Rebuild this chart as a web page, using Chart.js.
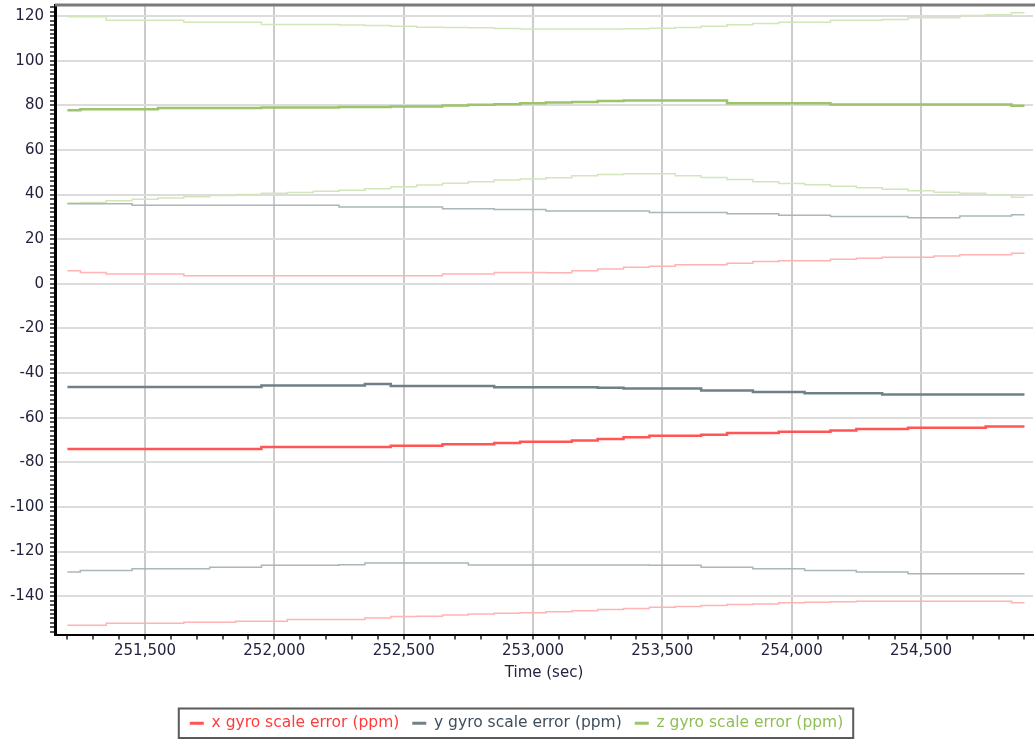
<!DOCTYPE html>
<html>
<head>
<meta charset="utf-8">
<script src="https://cdn.jsdelivr.net/npm/chart.js@4.4.1/dist/chart.umd.min.js"></script>
<style>
  html, body { margin: 0; padding: 0; background: #ffffff; }
  #wrap { width: 1035px; height: 742px; }
</style>
</head>
<body>
<div id="wrap"><canvas id="gyroChart" width="1035" height="742"></canvas></div>
<script>
// gyro scale error plot - estimate +/- bounds per axis

const timeSec = [251200, 251300, 251400, 251500, 251600, 251700, 251800, 251900,
  252000, 252100, 252200, 252300, 252400, 252500, 252600, 252700, 252800, 252900,
  253000, 253100, 253200, 253300, 253400, 253500, 253600, 253700, 253800, 253900,
  254000, 254100, 254200, 254300, 254400, 254500, 254600, 254700, 254800, 254900];

// x gyro
const xErr = [-74.0, -74.0, -74.0, -74.0, -74.0, -74.0, -74.0, -74.0, -73.2, -73.2, -73.2, -73.2, -73.2,
  -72.6, -72.6, -71.9, -71.9, -71.4, -70.8, -70.8, -70.2, -69.6, -68.8, -68.1, -68.1, -67.6,
  -66.9, -66.9, -66.3, -66.3, -65.7, -65.1, -65.1, -64.5, -64.5, -64.5, -63.9, -63.9];
const xErrUpper = [5.9, 5.1, 4.4, 4.4, 4.4, 3.6, 3.6, 3.6, 3.6, 3.6, 3.6, 3.6, 3.6, 3.6, 3.6,
  4.4, 4.4, 5.1, 5.1, 5.0, 5.9, 6.7, 7.4, 7.9, 8.6, 8.6, 9.2, 10.0, 10.4, 10.4, 11.0, 11.5,
  11.9, 11.9, 12.5, 13.0, 13.0, 13.7];
const xErrLower = [-153.0, -153.0, -152.2, -152.2, -152.2, -151.7, -151.7, -151.3, -151.3, -150.5,
  -150.5, -150.5, -149.8, -149.1, -149.0, -148.5, -148.0, -147.7, -147.5, -147.0, -146.5, -146.0,
  -145.5, -145.0, -144.6, -144.2, -143.8, -143.5, -143.0, -142.7, -142.5, -142.3, -142.3, -142.3,
  -142.3, -142.3, -142.3, -143.0];

// y gyro
const yErr = [-46.2, -46.2, -46.2, -46.2, -46.2, -46.2, -46.2, -46.2, -45.6, -45.6, -45.6, -45.6,
  -44.9, -45.8, -45.8, -45.8, -45.8, -46.4, -46.4, -46.4, -46.4, -46.6, -46.9, -46.9, -46.9,
  -47.8, -47.8, -48.5, -48.5, -49.1, -49.1, -49.1, -49.6, -49.6, -49.6, -49.6, -49.6, -49.6];
const yErrUpper = [35.9, 35.9, 35.9, 35.2, 35.2, 35.2, 35.2, 35.2, 35.2, 35.2, 35.2, 34.4, 34.4,
  34.4, 34.4, 33.7, 33.7, 33.3, 33.3, 32.6, 32.6, 32.6, 32.6, 32.0, 32.0, 32.0, 31.4, 31.4,
  30.8, 30.8, 30.2, 30.2, 30.2, 29.6, 29.6, 30.4, 30.4, 31.0];
const yErrLower = [-129.2, -128.5, -128.5, -127.7, -127.7, -127.7, -127.0, -127.0, -126.2, -126.2,
  -126.2, -125.9, -125.2, -125.2, -125.2, -125.2, -126.0, -126.0, -126.0, -126.0, -126.0, -126.0,
  -126.0, -126.2, -126.2, -127.0, -127.0, -127.7, -127.7, -128.5, -128.5, -129.2, -129.2, -130.0,
  -130.0, -130.0, -130.0, -130.0];

// z gyro
const zErr = [77.8, 78.3, 78.3, 78.3, 78.8, 78.8, 78.8, 78.8, 79.0, 79.0, 79.0, 79.3, 79.3, 79.5,
  79.5, 80.0, 80.3, 80.5, 81.0, 81.3, 81.5, 82.0, 82.2, 82.2, 82.2, 82.2, 81.0, 81.0, 81.0, 81.0,
  80.4, 80.4, 80.4, 80.4, 80.4, 80.4, 80.4, 79.8];
const zErrUpper = [119.7, 119.7, 118.2, 118.2, 118.2, 117.3, 117.3, 117.3, 116.3, 116.3, 116.3,
  116.0, 115.8, 115.5, 115.0, 114.9, 114.8, 114.5, 114.2, 114.2, 114.2, 114.2, 114.3, 114.6, 114.9,
  115.5, 116.2, 116.7, 117.3, 117.3, 118.2, 118.2, 118.5, 119.3, 119.3, 120.3, 120.6, 121.5];
const zErrLower = [36.2, 36.5, 37.2, 37.9, 38.5, 39.0, 39.6, 40.0, 40.6, 41.0, 41.5, 42.0, 42.6,
  43.5, 44.3, 45.1, 45.8, 46.5, 47.0, 47.6, 48.5, 49.0, 49.4, 49.4, 48.5, 47.7, 46.8, 45.8, 45.0,
  44.4, 43.8, 43.1, 42.4, 41.7, 41.1, 40.6, 39.8, 38.8];

const seriesLabels = ['x gyro scale error (ppm)', 'y gyro scale error (ppm)', 'z gyro scale error (ppm)'];
const labelColors = ['#ff3b3b', '#3e4e5c', '#8fbf55'];

const FONT = 'DejaVu Sans, Verdana, sans-serif';
const TICK_COLOR = '#23233f';

function pts(values) {
  return timeSec.map((t, i) => ({ x: t, y: values[i] }));
}

function line(label, values, color, width) {
  return {
    label: label,
    data: pts(values),
    borderColor: color,
    backgroundColor: color,
    borderWidth: width,
    pointRadius: 0,
    fill: false,
    stepped: 'middle'
  };
}

const datasets = [
  line(seriesLabels[0], xErr, '#ff5555', 2.5),
  line(seriesLabels[1], yErr, '#6f8187', 2.5),
  line(seriesLabels[2], zErr, '#9cc46a', 2.5),
  line('x upper', xErrUpper, '#ffb4b4', 1.5),
  line('x lower', xErrLower, '#ffb4b4', 1.5),
  line('y upper', yErrUpper, '#a9b6ba', 1.5),
  line('y lower', yErrLower, '#a9b6ba', 1.5),
  line('z upper', zErrUpper, '#d3e6ba', 1.5),
  line('z lower', zErrLower, '#d3e6ba', 1.5)
];

// --- plot frame (top edge) and box around the legend ---

const framePlugin = {
  id: 'frame',
  afterDraw(chart) {
    const { ctx, chartArea } = chart;
    ctx.save();
    ctx.strokeStyle = '#7a7a7a';
    ctx.lineWidth = 3;
    ctx.beginPath();
    ctx.moveTo(chartArea.left, chartArea.top);
    ctx.lineTo(chartArea.right + 2, chartArea.top);
    ctx.stroke();

    const lg = chart.legend;
    if (lg && lg.legendHitBoxes && lg.legendHitBoxes.length) {
      const boxes = lg.legendHitBoxes;
      const left = Math.min(...boxes.map(b => b.left)) - 11;
      const right = Math.max(...boxes.map(b => b.left + b.width)) + 10;
      const top = boxes[0].top - 7;
      const bottom = boxes[0].top + boxes[0].height + 7;
      ctx.strokeStyle = '#5a5a5a';
      ctx.lineWidth = 2;
      ctx.strokeRect(left, top, right - left, bottom - top);
    }
    ctx.restore();
  }
};

const ctx = document.getElementById('gyroChart').getContext('2d');

new Chart(ctx, {
  type: 'line',
  data: { datasets: datasets },
  options: {
    responsive: false,
    animation: false,
    layout: { padding: { top: 5, right: 2, left: 0, bottom: 1 } },
    scales: {
      x: {
        type: 'linear',
        min: 251152,
        max: 254933,
        afterFit: (scale) => {
          scale.height = 68;
          scale.paddingLeft = 0;
          scale.paddingRight = 0;
        },
        border: { color: '#000000', width: 2 },
        grid: {
          color: (c) => (c.tick && Math.round(c.tick.value) % 500 === 0) ? '#cbcbcb' : 'rgba(0,0,0,0)',
          lineWidth: 2,
          tickColor: '#555555',
          tickLength: 5
        },
        ticks: {
          stepSize: 100,
          includeBounds: false,
          autoSkip: false,
          maxRotation: 0,
          padding: 3,
          color: TICK_COLOR,
          font: { family: FONT, size: 15 },
          callback: (v) => (Math.round(v) % 500 === 0) ? Math.round(v).toLocaleString('en-US') : ''
        },
        title: {
          display: true,
          text: 'Time (sec)',
          color: TICK_COLOR,
          font: { family: FONT, size: 15 },
          padding: { top: 0, bottom: 20 }
        }
      },
      y: {
        min: -157.2,
        max: 125,
        afterFit: (scale) => {
          scale.width = 55;
          scale.paddingTop = 0;
          scale.paddingBottom = 0;
        },
        border: { color: '#000000', width: 3 },
        grid: {
          color: (c) => (c.tick && Math.round(c.tick.value) % 20 === 0) ? '#dcdcdc' : 'rgba(0,0,0,0)',
          lineWidth: 2,
          tickColor: '#555555',
          tickLength: 5
        },
        ticks: {
          stepSize: 2,
          includeBounds: false,
          autoSkip: false,
          padding: 6,
          color: TICK_COLOR,
          font: { family: FONT, size: 15 },
          callback: (v) => (Math.round(v) % 20 === 0) ? String(Math.round(v)) : ''
        }
      }
    },
    plugins: {
      tooltip: { enabled: false },
      legend: {
        position: 'bottom',
        labels: {
          usePointStyle: true,
          pointStyle: 'line',
          pointStyleWidth: 14,
          boxHeight: 15,
          padding: 13,
          font: { family: FONT, size: 15.5 },
          filter: (item) => item.datasetIndex < 3,
          generateLabels: (chart) => {
            const items = Chart.defaults.plugins.legend.labels.generateLabels(chart);
            items.forEach((it) => {
              if (it.datasetIndex < 3) {
                it.fontColor = labelColors[it.datasetIndex];
                it.lineWidth = 3;
              }
            });
            return items;
          }
        }
      }
    }
  },
  plugins: [framePlugin]
});
</script>
</body>
</html>
